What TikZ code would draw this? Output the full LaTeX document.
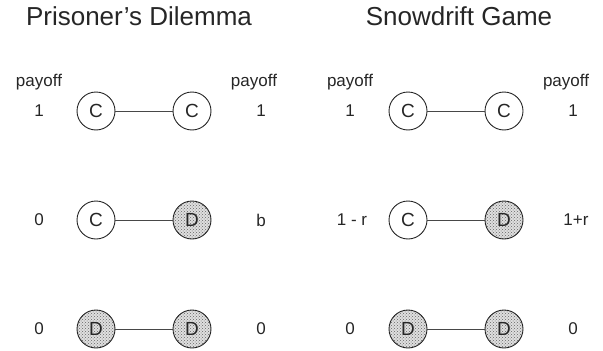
\documentclass[tikz,border=0pt]{standalone}
\usepackage{fontspec}
\setmainfont{Liberation Sans}
\usetikzlibrary{patterns}
\definecolor{ink}{HTML}{262626}
\begin{document}
\begin{tikzpicture}[x=1pt,y=-1pt,
  title/.style={font=\fontsize{26}{28}\selectfont, text=ink, anchor=base},
  lab/.style={font=\fontsize{17}{19}\selectfont, text=ink},
  coop/.style={circle, draw=ink, line width=0.9pt, minimum size=38pt, inner sep=0pt, fill=white, font=\fontsize{19}{21}\selectfont, text=ink},
  defect/.style={coop, fill=gray!30, pattern=crosshatch dots, pattern color=black!60, preaction={fill=gray!25}},
  link/.style={draw=ink!85, line width=0.9pt}]
\useasboundingbox (0,0) rectangle (603,351);
% titles
\node[title] (t1) at (139,25) {Prisoner’s Dilemma};
\node[title] (t2) at (459,25) {Snowdrift Game};
% payoff labels
\node[lab] (p1) at (39,82) {payoff};
\node[lab] (p2) at (254,82) {payoff};
\node[lab] (p3) at (350,82) {payoff};
\node[lab] (p4) at (566,82) {payoff};
% Prisoner's dilemma
\node[coop] (a1) at (96,111) {C};
\node[coop] (b1) at (192,111) {C};
\node[lab] (la1) at (39,111) {1};
\node[lab] (ra1) at (261,111) {1};
\draw[link] (a1) -- (b1);
\node[coop] (a2) at (96,220) {C};
\node[defect] (b2) at (192,220) {D};
\node[lab] (la2) at (39,220) {0};
\node[lab] (ra2) at (261,220) {b};
\draw[link] (a2) -- (b2);
\node[defect] (a3) at (96,329) {D};
\node[defect] (b3) at (192,329) {D};
\node[lab] (la3) at (39,329) {0};
\node[lab] (ra3) at (261,329) {0};
\draw[link] (a3) -- (b3);
% Snowdrift
\node[coop] (c1) at (408,111) {C};
\node[coop] (d1) at (504,111) {C};
\node[lab] (lc1) at (350,111) {1};
\node[lab] (rc1) at (573,111) {1};
\draw[link] (c1) -- (d1);
\node[coop] (c2) at (408,220) {C};
\node[defect] (d2) at (504,220) {D};
\node[lab] (lc2) at (352,220) {1 - r};
\node[lab] (rc2) at (576,220) {1+r};
\draw[link] (c2) -- (d2);
\node[defect] (c3) at (408,329) {D};
\node[defect] (d3) at (504,329) {D};
\node[lab] (lc3) at (350,329) {0};
\node[lab] (rc3) at (573,329) {0};
\draw[link] (c3) -- (d3);
\end{tikzpicture}
\end{document}
